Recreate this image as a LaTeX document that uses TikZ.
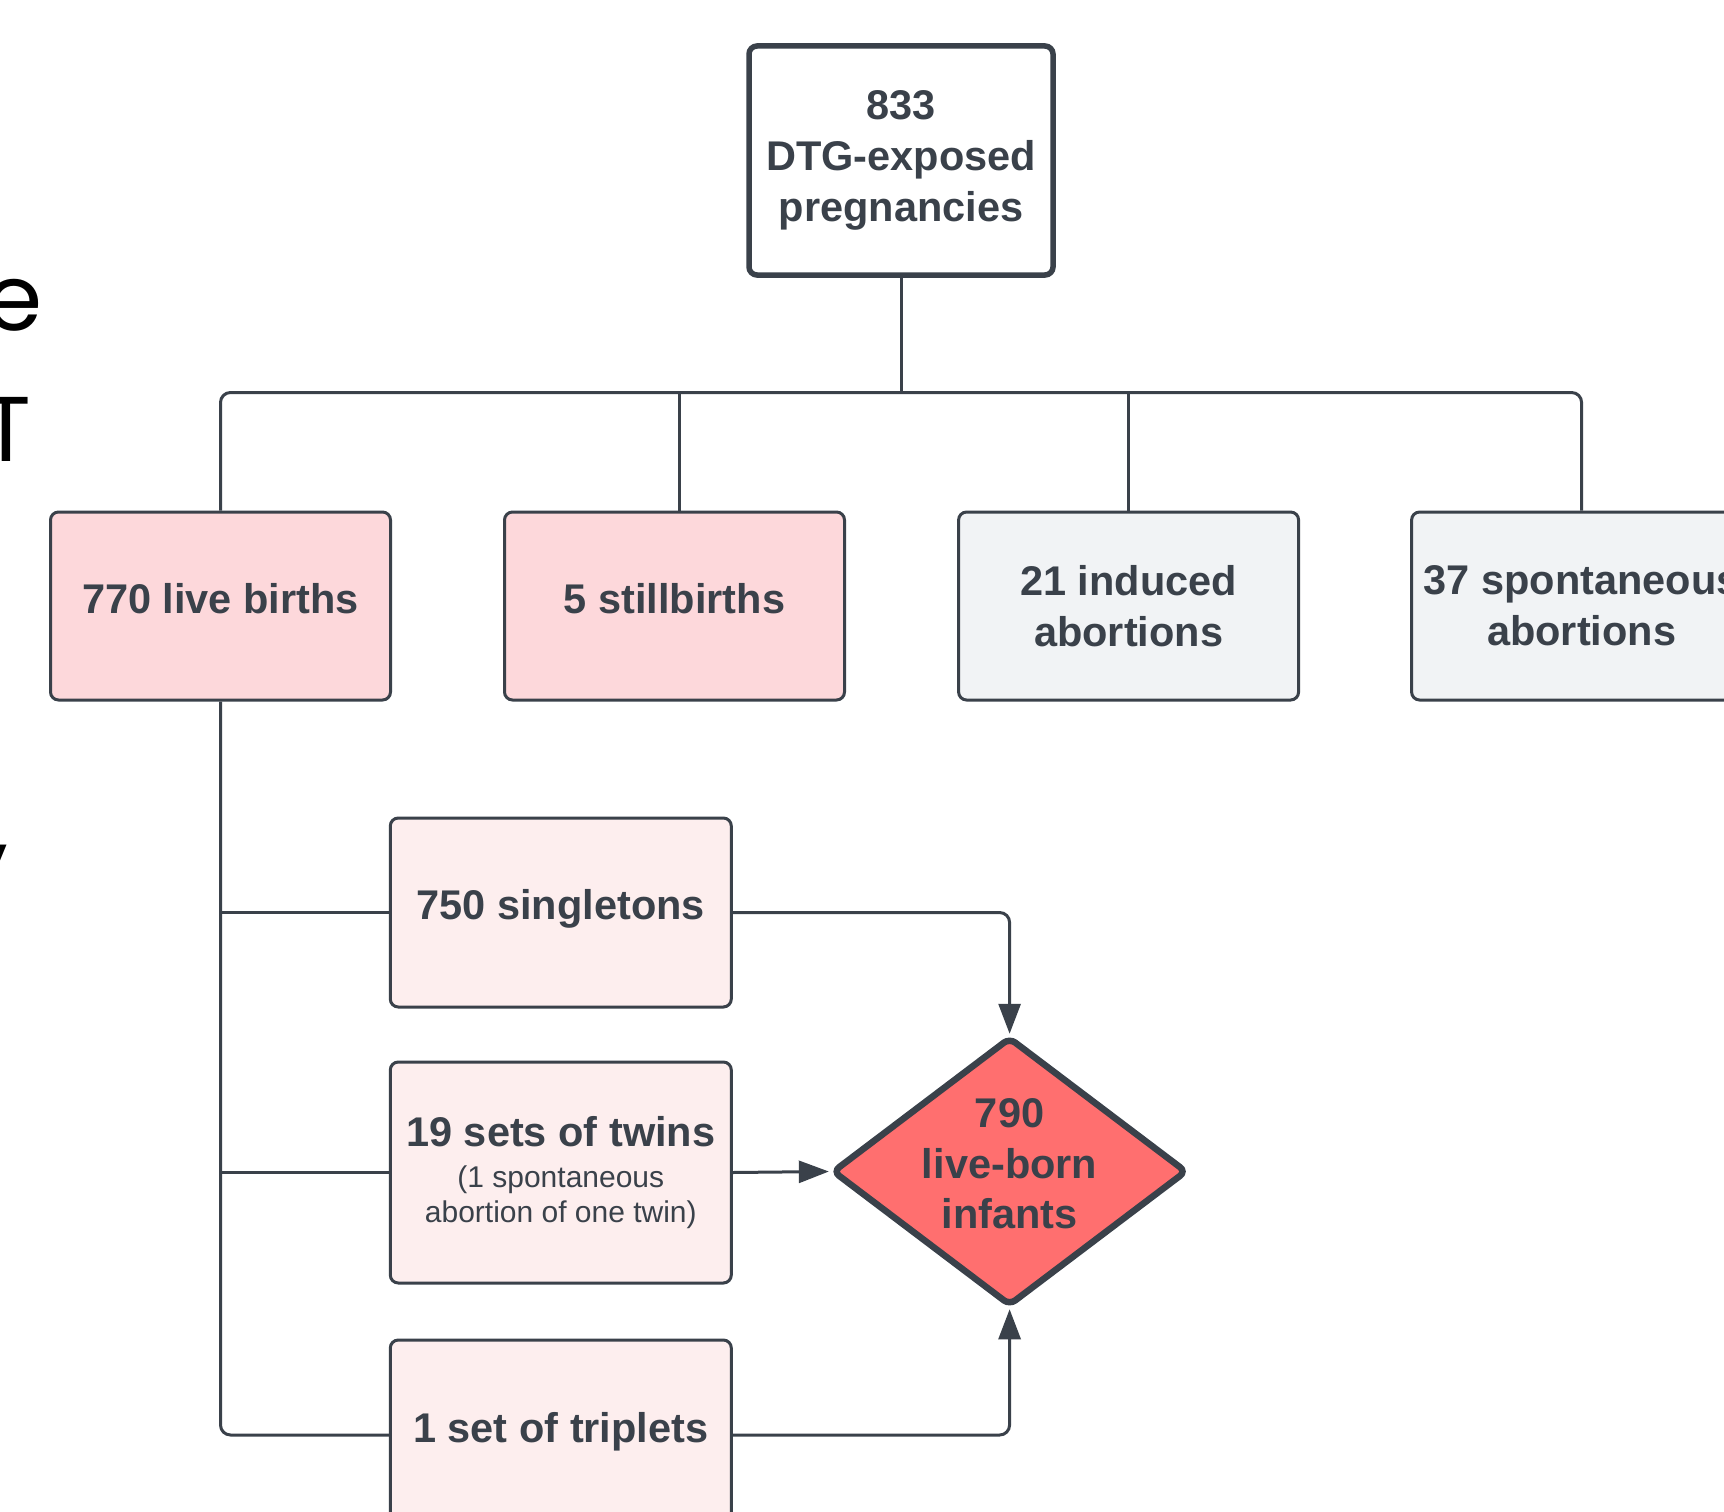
\documentclass[tikz,border=0pt]{standalone}
\usepackage{fontspec}
\setmainfont{Liberation Sans}
\newfontfamily\fragfont{Poppins}
\usetikzlibrary{shapes.geometric,arrows.meta}
\definecolor{ink}{HTML}{3A414A}
\definecolor{pinkA}{HTML}{FDD8DB}
\definecolor{pinkB}{HTML}{FDEEEE}
\definecolor{grayA}{HTML}{F1F3F5}
\definecolor{redD}{HTML}{FF6F6F}
\newcommand\bxfont{\fontsize{41.5}{50.6}\selectfont\bfseries}
\newcommand\smfont{\fontsize{30}{35.2}\selectfont\mdseries}
\begin{document}
\begin{tikzpicture}[x=1pt,y=-1pt,
  box/.style={draw=ink, line width=3pt, rounded corners=8pt, align=center,
    text=ink, font=\bxfont, inner sep=0pt, minimum width=340pt, minimum height=188pt},
  oneline/.style={text height=30pt, text depth=16pt},
  twoline/.style={text height=30pt, text depth=64pt},
  conn/.style={draw=ink, line width=3pt},
  arr/.style={draw=ink, line width=3pt, -{Triangle[width=22pt,length=30pt]}},
  frag/.style={font=\fragfont\fontsize{92}{100}\selectfont, text=black, inner sep=0pt}]
\useasboundingbox (0,0) rectangle (1724,1512);
\fill[white] (0,0) rectangle (1724,1512);

% fragments of cut-off text at the left edge
\node[frag, anchor=base east] (fe) at (43,330) {e};
\node[frag, anchor=base] (fT) at (6,461) {T};
\node[frag, anchor=base east] (fy) at (8,895) {y};

% top
\node[box, line width=5.5pt, fill=white, minimum width=304pt, minimum height=229pt] (top) at (901,160.5)
  {833\\DTG-exposed\\pregnancies};

% second row
\node[box, oneline, fill=pinkA] (live) at (220.5,606) {770 live births};
\node[box, oneline, fill=pinkA] (still) at (674.5,606) {5 stillbirths};
\node[box, fill=grayA] (induced) at (1128.6,606) {21 induced\\abortions};
\node[box, fill=grayA] (spont) at (1581.6,606) {37 spontaneous\\abortions};

% lower boxes
\node[box, oneline, fill=pinkB, minimum width=341pt, minimum height=189pt] (single) at (560.8,912.5) {750 singletons};
\node[box, fill=pinkB, minimum width=341pt, minimum height=221pt] (twins) at (560.8,1172.5)
  {19 sets of twins\\[-9.5pt]{\smfont (1 spontaneous}\\[-15.4pt]{\smfont abortion of one twin)}};
\node[box, oneline, fill=pinkB, minimum width=341pt, minimum height=190pt] (trip) at (560.8,1435) {1 set of triplets};

% diamond
\node[draw=ink, line width=6.5pt, fill=redD, diamond, rounded corners=7pt, inner sep=0pt,
  minimum width=355pt, minimum height=269pt] (dia) at (1009.6,1171.5) {};
\node[font=\bxfont, text=ink, align=center, inner sep=0pt] (diat) at (1009.6,1164) {790\\live-born\\infants};

% tree connectors
\coordinate (busc) at (901,392.5);
\draw[conn] (top.south) -- (busc);
\draw[conn, rounded corners=10pt] (live.north) -- (live.north |- busc) -- (spont.north |- busc) -- (spont.north);
\draw[conn] ([xshift=5pt]still.north) -- ([xshift=5pt]still.north |- busc);
\draw[conn] (induced.north) -- (induced.north |- busc);

\draw[conn, rounded corners=10pt] (live.south) -- (live.south |- trip.west) -- (trip.west);
\draw[conn] (live.south |- single.west) -- (single.west);
\draw[conn] (live.south |- twins.west) -- (twins.west);

% arrows into diamond
\draw[arr, rounded corners=10pt] (single.east) -| (dia.north);
\draw[arr] (twins.east) -- (dia.west);
\draw[arr, rounded corners=10pt] (trip.east) -| (dia.south);
\end{tikzpicture}
\end{document}
